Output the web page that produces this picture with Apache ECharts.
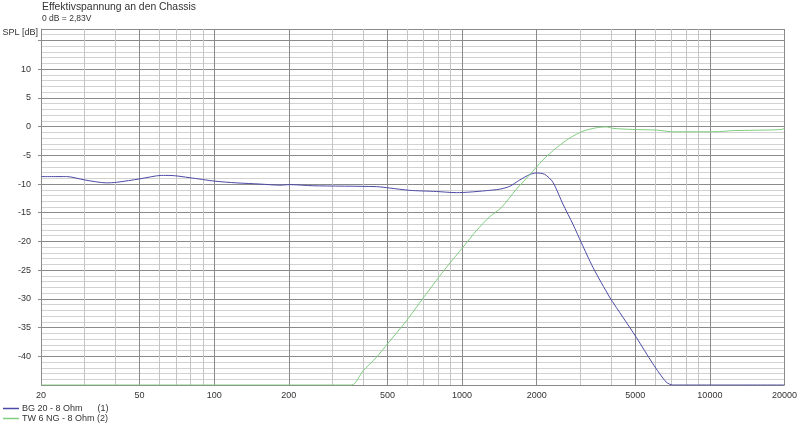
<!DOCTYPE html>
<html>
<head>
<meta charset="utf-8">
<script src="https://cdn.jsdelivr.net/npm/echarts@6/dist/echarts.min.js"></script>
<style>
html,body{margin:0;padding:0;background:#fff;}
#c{width:800px;height:429px;}
</style>
</head>
<body>
<div id="c"></div>
<script>
// Frequencies (Hz) and SPL (dB)
var bgFreq = [20, 25.4, 30.1, 36.8, 40.4, 50.1, 61.3, 66.3, 79.8, 100.6, 123, 152.8, 184, 202, 250, 451, 511, 615, 788, 949, 1074, 1254, 1419, 1557, 1708, 1874, 1994, 2154, 2327, 2553, 2802, 3028, 3373, 3940, 4457, 5048, 5888, 6668, 7089, 20000];
var bgSpl  = [-8.7, -8.7, -9.3, -9.8, -9.7, -9.1, -8.5, -8.5, -8.9, -9.5, -9.8, -10.0, -10.2, -10.1, -10.3, -10.45, -10.7, -11.1, -11.3, -11.5, -11.4, -11.15, -10.9, -10.4, -9.3, -8.35, -8.07, -8.3, -9.7, -13.5, -17.0, -20.2, -24.5, -29.7, -33.2, -36.7, -41.3, -44.5, -45, -45];

var twFreq = [20, 358, 399, 451, 503, 597, 718, 865, 1009, 1143, 1293, 1441, 1656, 1874, 2120, 2402, 2718, 3074, 3482, 3820, 4062, 4890, 6076, 7089, 9084, 10938, 12338, 16878, 19396, 20000];
var twSpl  = [-45, -45, -42.5, -40.2, -37.7, -33.8, -29.1, -24.5, -21.0, -18.1, -15.7, -14.1, -10.9, -8.4, -5.8, -3.7, -2.0, -0.8, -0.2, -0.05, -0.3, -0.5, -0.6, -0.9, -0.9, -0.87, -0.7, -0.6, -0.5, -0.3];

var majorFreqs = [20, 50, 100, 200, 500, 1000, 2000, 5000, 10000, 20000];
var minorFreqs = [20, 30, 40, 50, 60, 70, 80, 90, 100, 200, 300, 400, 500, 600, 700, 800, 900, 1000, 2000, 3000, 4000, 5000, 6000, 7000, 8000, 9000, 10000, 20000];
var dbLabelMax = 10;

var seriesNames = ['BG 20 - 8 Ohm      (1)', 'TW 6 NG - 8 Ohm (2)'];
var titleText = 'Effektivspannung an den Chassis';
var subText = '0 dB = 2,83V';
var yName = 'SPL [dB]';

function pairs(xs, ys) { return xs.map(function (x, i) { return [x, ys[i]]; }); }

var FONT = 'Liberation Sans, Arial, sans-serif';
var chart = echarts.init(document.getElementById('c'), null, { renderer: 'canvas' });
chart.setOption({
  animation: false,
  backgroundColor: '#ffffff',
  textStyle: { fontFamily: FONT },
  title: {
    text: titleText, subtext: subText, left: 37, top: 0, itemGap: 2, padding: [2, 5, 0, 5],
    textStyle: { fontSize: 10.4, fontWeight: 'normal', color: '#333', fontFamily: FONT },
    subtextStyle: { fontSize: 8.5, color: '#333', fontFamily: FONT }
  },
  graphic: [{
    type: 'text', right: 800 - 38, top: 28,
    style: { text: yName, fontSize: 9, fill: '#333', fontFamily: FONT }
  }],
  legend: {
    orient: 'vertical', left: 3, top: 404, itemGap: 1, itemWidth: 16, itemHeight: 1.5,
    icon: 'rect', padding: 0,
    textStyle: { fontSize: 9, color: '#333', fontFamily: FONT, padding: [0, 0, 0, -2] },
    data: seriesNames
  },
  grid: { left: 41, right: 15, top: 29, bottom: 44, containLabel: false },
  xAxis: [{
    type: 'log', logBase: 10, min: 20, max: 20000, position: 'top',
    axisLine: { show: false }, axisTick: { show: false, customValues: minorFreqs },
    axisLabel: { show: false },
    splitLine: { show: true, lineStyle: { color: '#c4c4c4', width: 1, type: 'solid' } }
  }, {
    type: 'log', logBase: 10, min: 20, max: 20000, position: 'bottom',
    axisLine: { show: true, lineStyle: { color: '#8c8c8c' } },
    axisTick: { show: true, length: 3, customValues: majorFreqs, lineStyle: { color: '#8c8c8c' } },
    axisLabel: {
      show: true, customValues: majorFreqs, fontSize: 9, color: '#333', margin: 6, fontFamily: FONT,
      formatter: function (v) { return String(Math.round(v)); }
    },
    splitLine: { show: true, lineStyle: { color: '#8a8a8a', width: 1, type: 'solid' } }
  }],
  yAxis: [{
    type: 'value', min: -45, max: 17, interval: 1, position: 'right',
    axisLine: { show: false }, axisTick: { show: false }, axisLabel: { show: false },
    splitLine: { show: true, lineStyle: { color: '#d2d2d2', width: 1, type: 'solid' } }
  }, {
    type: 'value', min: -45, max: 17, interval: 5, position: 'left',
    axisLine: { show: true, lineStyle: { color: '#8c8c8c' } },
    axisTick: { show: true, length: 3, lineStyle: { color: '#8c8c8c' } },
    axisLabel: {
      show: true, fontSize: 9, color: '#333', margin: 10, showMaxLabel: false, showMinLabel: false, fontFamily: FONT,
      formatter: function (v) { return v > dbLabelMax ? '' : String(v); }
    },
    splitLine: { show: true, lineStyle: { color: '#8a8a8a', width: 1, type: 'solid' } }
  }],
  series: [{
    name: seriesNames[0], type: 'line', xAxisIndex: 0, yAxisIndex: 0,
    data: pairs(bgFreq, bgSpl), smooth: 0.25, showSymbol: false, symbol: 'none',
    itemStyle: { color: '#4a4aa6' }, lineStyle: { color: '#4a4aa6', width: 1 }
  }, {
    name: seriesNames[1], type: 'line', xAxisIndex: 0, yAxisIndex: 0,
    data: pairs(twFreq, twSpl), smooth: 0.25, showSymbol: false, symbol: 'none',
    itemStyle: { color: '#7fcd7f' }, lineStyle: { color: '#7fcd7f', width: 1 }
  }]
});
</script>
</body>
</html>
